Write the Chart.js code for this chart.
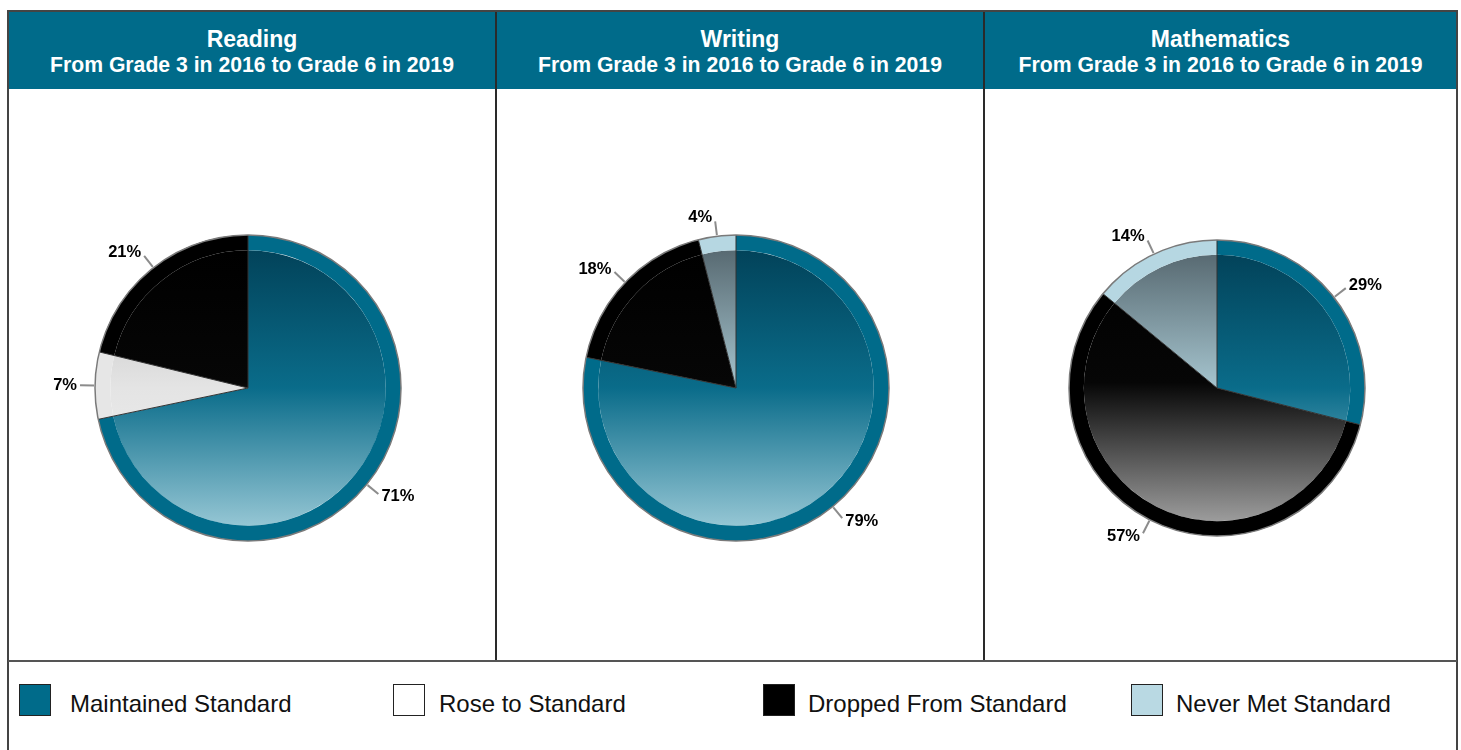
<!DOCTYPE html>
<html>
<head>
<meta charset="utf-8">
<script src="https://cdn.jsdelivr.net/npm/chart.js@4.4.1/dist/chart.umd.min.js"></script>
<style>
  body { margin: 0; background: #fff; font-family: "Liberation Sans", Arial, sans-serif; }
  #page { position: relative; width: 1461px; height: 750px; overflow: hidden; }
  .frame { position: absolute; left: 7px; top: 10px; width: 1451px; height: 760px; border: 2px solid #444; box-sizing: border-box; }
  .head { position: absolute; top: 12px; height: 77px; background: #006b8a; color: #fff; text-align: center; font-weight: bold; }
  .head .t { position: absolute; left: 0; right: 0; top: 14px; font-size: 23px; line-height: 26px; }
  .head .s { position: absolute; left: 0; right: 0; top: 41px; font-size: 21.2px; line-height: 24px; }
  .vline { position: absolute; top: 12px; width: 2px; height: 649px; background: #2a2a2a; }
  .hline { position: absolute; left: 8px; top: 660px; width: 1449px; height: 2px; background: #555; }
  .pie { position: absolute; top: 158px; }
  .lbox { position: absolute; top: 684px; width: 32px; height: 32px; border: 1.5px solid #222; box-sizing: border-box; }
  .ltxt { position: absolute; top: 690px; font-size: 24px; line-height: 28px; color: #111; white-space: nowrap; }
</style>
</head>
<body>
<div id="page">
  <div class="frame"></div>
  <div id="heads"></div>
  <div class="vline" style="left:495px"></div>
  <div class="vline" style="left:983px"></div>
  <div class="hline"></div>
  <canvas id="pie0" class="pie" width="460" height="460" style="left:18px"></canvas>
  <canvas id="pie1" class="pie" width="460" height="460" style="left:506px"></canvas>
  <canvas id="pie2" class="pie" width="460" height="460" style="left:987px"></canvas>
  <div id="legend"></div>
</div>
<script>
// data
const categories = ["Maintained Standard", "Rose to Standard", "Dropped From Standard", "Never Met Standard"];
const subjects = ["Reading", "Writing", "Mathematics"];
const subtitle = "From Grade 3 in 2016 to Grade 6 in 2019";
const readingValues = [71, 7, 21, 0];
const writingValues = [79, 0, 18, 4];
const mathValues = [29, 0, 57, 14];

// styles
const ringColors = ["#006b8a", "#e6e6e6", "#000000", "#b6d7e2"];
const legendColors = ["#006b8a", "#ffffff", "#000000", "#b9d9e3"];
const innerStops = [
  [[0, "#02435a"], [0.5, "#0a6c8a"], [1, "#95c6d4"]],
  [[0, "#bcbcbc"], [0.5, "#e4e4e4"], [1, "#f3f3f3"]],
  [[0, "#000000"], [0.48, "#060606"], [1, "#9c9c9c"]],
  [[0, "#586a72"], [0.5, "#a6c5cf"], [1, "#c0dde7"]]
];
const pieRadius = [153, 153, 148];
const headBoxes = [[9, 486], [497, 486], [985, 471]];
const legendBoxX = [19, 393, 763, 1131];
const legendTextX = [70, 439, 808, 1176];
const ringWeight = 1, innerWeight = 9;

// header cells
const heads = document.getElementById("heads");
subjects.forEach((s, i) => {
  const d = document.createElement("div");
  d.className = "head";
  d.style.left = headBoxes[i][0] + "px";
  d.style.width = headBoxes[i][1] + "px";
  d.innerHTML = '<div class="t">' + s + '</div><div class="s">' + subtitle + '</div>';
  heads.appendChild(d);
});

// legend
const legend = document.getElementById("legend");
categories.forEach((c, i) => {
  const b = document.createElement("div");
  b.className = "lbox";
  b.style.left = legendBoxX[i] + "px";
  b.style.background = legendColors[i];
  legend.appendChild(b);
  const t = document.createElement("div");
  t.className = "ltxt";
  t.style.left = legendTextX[i] + "px";
  t.textContent = c;
  legend.appendChild(t);
});

// vertical gradient over the inner pie, from the chart area and radius option
function innerFill(ctx) {
  const chart = ctx.chart;
  const i = ctx.dataIndex;
  const area = chart.chartArea;
  if (!area) return ringColors[i];
  const cy = (area.top + area.bottom) / 2;
  const r = chart.options.radius * innerWeight / (ringWeight + innerWeight);
  const g = chart.ctx.createLinearGradient(0, cy - r, 0, cy + r);
  innerStops[i].forEach(s => g.addColorStop(s[0], s[1]));
  return g;
}

// outline + slice dividers, then percentage labels with leader lines
const pieDecor = {
  id: "pieDecor",
  afterDatasetsDraw(chart) {
    const ctx = chart.ctx;
    const values = chart.data.datasets[0].data;
    const arcs = chart.getDatasetMeta(0).data;
    const cx = arcs[0].x, cy = arcs[0].y, R = arcs[0].outerRadius;
    ctx.save();
    const nonZero = values.filter(v => v > 0).length;
    if (nonZero > 1) {
      ctx.strokeStyle = "#333";
      ctx.lineWidth = 1;
      arcs.forEach((a, i) => {
        if (values[i] <= 0) return;
        ctx.beginPath();
        ctx.moveTo(cx, cy);
        ctx.lineTo(cx + R * Math.cos(a.startAngle), cy + R * Math.sin(a.startAngle));
        ctx.stroke();
      });
    }
    ctx.beginPath();
    ctx.arc(cx, cy, R, 0, Math.PI * 2);
    ctx.strokeStyle = "#7a7a7a";
    ctx.lineWidth = 1.5;
    ctx.stroke();

    ctx.font = "bold 16.5px 'Liberation Sans', Arial, sans-serif";
    ctx.fillStyle = "#000";
    ctx.textBaseline = "middle";
    arcs.forEach((a, i) => {
      if (values[i] <= 0) return;
      const m = (a.startAngle + a.endAngle) / 2;
      const c = Math.cos(m), s = Math.sin(m);
      const x1 = cx + (R + 1) * c, y1 = cy + (R + 1) * s;
      const x2 = cx + (R + 15) * c, y2 = cy + (R + 15) * s;
      ctx.beginPath();
      ctx.moveTo(x1, y1);
      ctx.lineTo(x2, y2);
      ctx.strokeStyle = "#8c8c8c";
      ctx.lineWidth = 2;
      ctx.stroke();
      const right = c >= 0;
      ctx.textAlign = right ? "left" : "right";
      ctx.fillText(values[i] + "%", x2 + (right ? 3 : -3), y2 + 4 * s);
    });
    ctx.restore();
  }
};

function makePie(id, values, radius) {
  return new Chart(document.getElementById(id), {
    type: "pie",
    data: {
      labels: categories,
      datasets: [
        { data: values, backgroundColor: ringColors, borderWidth: 0, weight: ringWeight },
        { data: values, backgroundColor: innerFill, borderWidth: 0, weight: innerWeight }
      ]
    },
    options: {
      responsive: false,
      animation: false,
      radius: radius,
      events: [],
      layout: { padding: 0 },
      plugins: { legend: { display: false }, tooltip: { enabled: false } }
    },
    plugins: [pieDecor]
  });
}

makePie("pie0", readingValues, pieRadius[0]);
makePie("pie1", writingValues, pieRadius[1]);
makePie("pie2", mathValues, pieRadius[2]);
</script>
</body>
</html>
